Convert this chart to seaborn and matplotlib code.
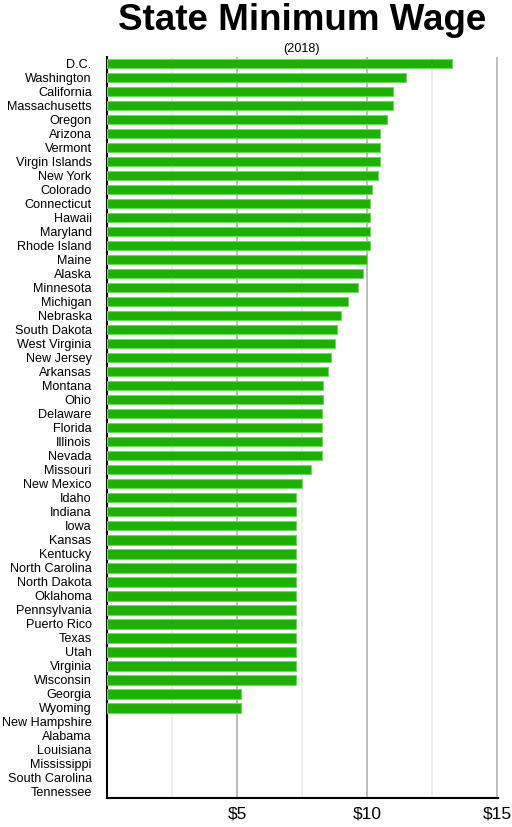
import matplotlib
matplotlib.use("Agg")
import matplotlib.pyplot as plt
import seaborn as sns
import pandas as pd
from matplotlib.ticker import FixedLocator, FuncFormatter

states = ["D.C.", "Washington", "California", "Massachusetts", "Oregon", "Arizona",
          "Vermont", "Virgin Islands", "New York", "Colorado", "Connecticut", "Hawaii",
          "Maryland", "Rhode Island", "Maine", "Alaska", "Minnesota", "Michigan",
          "Nebraska", "South Dakota", "West Virginia", "New Jersey", "Arkansas",
          "Montana", "Ohio", "Delaware", "Florida", "Illinois", "Nevada", "Missouri",
          "New Mexico", "Idaho", "Indiana", "Iowa", "Kansas", "Kentucky",
          "North Carolina", "North Dakota", "Oklahoma", "Pennsylvania", "Puerto Rico",
          "Texas", "Utah", "Virginia", "Wisconsin", "Georgia", "Wyoming",
          "New Hampshire", "Alabama", "Louisiana", "Mississippi", "South Carolina",
          "Tennessee"]
wages = [13.25, 11.50, 11.00, 11.00, 10.75, 10.50,
         10.50, 10.50, 10.40, 10.20, 10.10, 10.10,
         10.10, 10.10, 10.00, 9.84, 9.65, 9.25,
         9.00, 8.85, 8.75, 8.60, 8.50,
         8.30, 8.30, 8.25, 8.25, 8.25, 8.25, 7.85,
         7.50, 7.25, 7.25, 7.25, 7.25, 7.25,
         7.25, 7.25, 7.25, 7.25, 7.25,
         7.25, 7.25, 7.25, 7.25, 5.15, 5.15,
         0, 0, 0, 0, 0, 0]
major_ticks = [5, 10, 15]
minor_ticks = [2.5, 7.5, 12.5]

df = pd.DataFrame({"state": states, "wage": wages})

sns.set_style("white")
plt.rcParams["font.family"] = ["Liberation Sans", "DejaVu Sans"]

fig = plt.figure(figsize=(5.12, 8.27), dpi=100)
ax = fig.add_axes([107 / 512, 1 - 798 / 827, (498 - 107) / 512, (798 - 57) / 827])

sns.barplot(data=df, x="wage", y="state", order=states, orient="h",
            color="#1eb000", saturation=1, width=0.68,
            edgecolor="#6fd860", linewidth=0.8, ax=ax, zorder=3)
for p in ax.patches:
    if p.get_width() == 0:
        p.set_visible(False)

ax.set_xlim(0, 15.03)
ax.set_ylim(52.43, -0.45)
ax.xaxis.set_major_locator(FixedLocator(major_ticks))
ax.xaxis.set_minor_locator(FixedLocator(minor_ticks))
ax.xaxis.set_major_formatter(FuncFormatter(lambda v, p: f"${v:g}"))
ax.grid(which="major", axis="x", color="#bdbdbd", linewidth=1.4, zorder=0)
ax.grid(which="minor", axis="x", color="#ececec", linewidth=1.2, zorder=0)
ax.grid(which="major", axis="y", visible=False)
ax.set_axisbelow(True)

for s in ["top", "right"]:
    ax.spines[s].set_visible(False)
for s in ["left", "bottom"]:
    ax.spines[s].set_color("black")
    ax.spines[s].set_linewidth(1.5)

ax.tick_params(axis="x", which="both", length=0, labelsize=12.5, pad=6, colors="black")
ax.tick_params(axis="y", length=0, labelsize=9.1, pad=11, colors="black")
ax.set_xlabel("")
ax.set_ylabel("")

fig.text(302 / 512, 1 - 30 / 827, "State Minimum Wage", ha="center", va="baseline",
         fontsize=26.5, fontweight="bold", color="black")
fig.text(302 / 512, 1 - 49 / 827, "(2018)", ha="center", va="center",
         fontsize=9.1, color="black")

fig.savefig("out.png", dpi=100)
